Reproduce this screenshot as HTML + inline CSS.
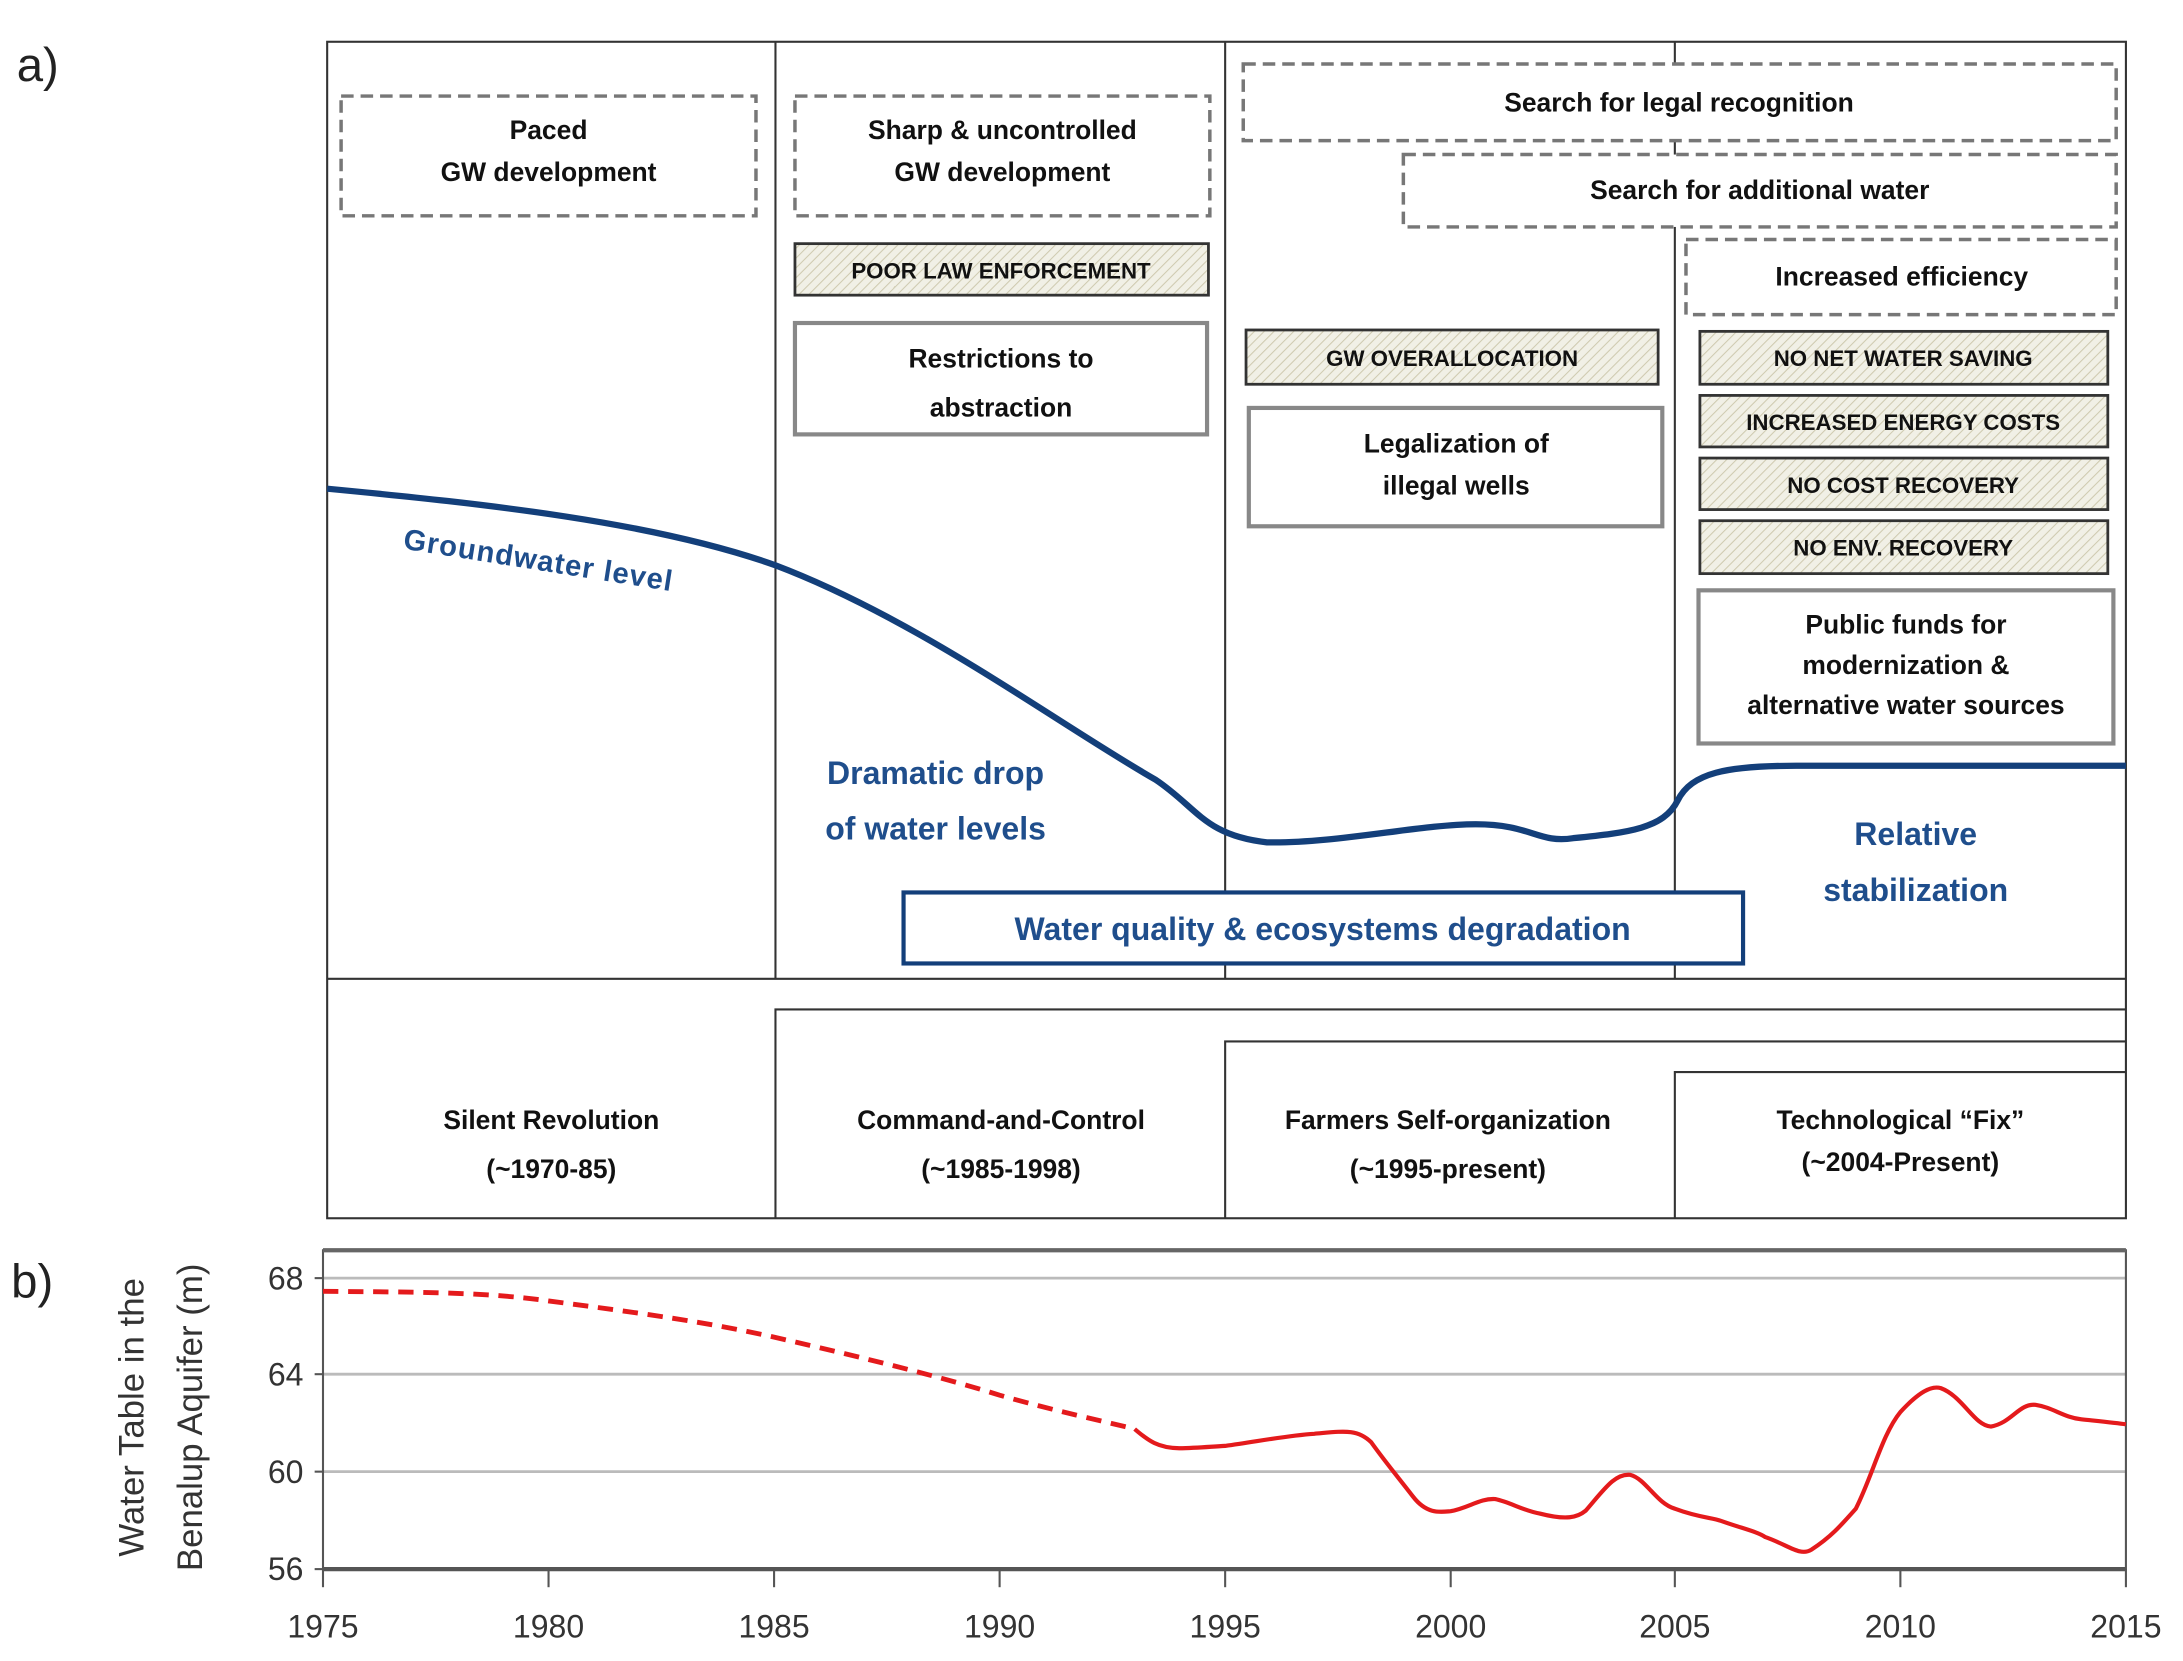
<!DOCTYPE html>
<html><head><meta charset="utf-8"><style>
html,body{margin:0;padding:0;background:#fff;}
svg{display:block;}
text{font-family:"Liberation Sans",sans-serif;}
.b{font-weight:bold;fill:#111;font-size:19px;text-anchor:middle;}
.s{font-weight:bold;fill:#111;font-size:16px;text-anchor:middle;}
.bl{font-weight:bold;fill:#1f4e8c;font-size:23px;text-anchor:middle;}
.tk{font-size:23px;fill:#333;text-anchor:middle;}
</style></head><body>
<svg width="2183" height="1661" viewBox="0 0 1568 1193" preserveAspectRatio="none" xmlns="http://www.w3.org/2000/svg">
<defs>
<pattern id="h" width="5" height="5" patternUnits="userSpaceOnUse" patternTransform="rotate(45)">
<rect width="5" height="5" fill="#f1f0e6"/><line x1="0" y1="0" x2="0" y2="5" stroke="#cfcab0" stroke-width="1.5"/>
</pattern>
</defs>
<rect width="1568" height="1193" fill="#fff"/>
<text x="12" y="58" font-size="34" fill="#222">a)</text>
<text x="8" y="932" font-size="34" fill="#222">b)</text>

<g stroke="#333" stroke-width="1.5" fill="none">
<rect x="235" y="30" width="1292" height="845"/>
<line x1="557" y1="30" x2="557" y2="703"/>
<line x1="880" y1="30" x2="880" y2="703"/>
<line x1="1203" y1="30" x2="1203" y2="703"/>
<line x1="235" y1="703" x2="1527" y2="703"/>
<polyline points="557,875 557,725 1527,725"/>
<polyline points="880,875 880,748 1527,748"/>
<polyline points="1203,875 1203,770 1527,770"/>
</g>

<g stroke="#777" stroke-width="2.5" stroke-dasharray="9,5" fill="#fff">
<rect x="245" y="69" width="298" height="86"/>
<rect x="571" y="69" width="298" height="86"/>
<rect x="893" y="46" width="627" height="55"/>
<rect x="1008" y="111" width="512" height="52"/>
<rect x="1211" y="172" width="309" height="54"/>
</g>
<text class="b" x="394" y="100">Paced</text>
<text class="b" x="394" y="130">GW development</text>
<text class="b" x="720" y="100">Sharp &amp; uncontrolled</text>
<text class="b" x="720" y="130">GW development</text>
<text class="b" x="1206" y="80">Search for legal recognition</text>
<text class="b" x="1264" y="143">Search for additional water</text>
<text class="b" x="1366" y="205">Increased efficiency</text>

<g stroke="#333" stroke-width="2" fill="url(#h)">
<rect x="571" y="175" width="297" height="37"/>
<rect x="895" y="237" width="296" height="39"/>
<rect x="1221" y="238" width="293" height="38"/>
<rect x="1221" y="284" width="293" height="37"/>
<rect x="1221" y="329" width="293" height="37"/>
<rect x="1221" y="374" width="293" height="38"/>
</g>
<text class="s" x="719" y="200">POOR LAW ENFORCEMENT</text>
<text class="s" x="1043" y="263">GW OVERALLOCATION</text>
<text class="s" x="1367" y="263">NO NET WATER SAVING</text>
<text class="s" x="1367" y="309">INCREASED ENERGY COSTS</text>
<text class="s" x="1367" y="354">NO COST RECOVERY</text>
<text class="s" x="1367" y="399">NO ENV. RECOVERY</text>

<g stroke="#888" stroke-width="3" fill="#fff">
<rect x="571" y="232" width="296" height="80"/>
<rect x="897" y="293" width="297" height="85"/>
<rect x="1220" y="424" width="298" height="110"/>
</g>
<text class="b" x="719" y="264">Restrictions to</text>
<text class="b" x="719" y="299">abstraction</text>
<text class="b" x="1046" y="325">Legalization of</text>
<text class="b" x="1046" y="355">illegal wells</text>
<text class="b" x="1369" y="455">Public funds for</text>
<text class="b" x="1369" y="484">modernization &amp;</text>
<text class="b" x="1369" y="513">alternative water sources</text>

<path d="M235,351 C350,362 470,375 557,406 C660,445 760,520 830,560 C860,580 865,600 910,605 C960,606 1020,592 1060,592 C1100,592 1105,606 1130,602 C1170,598 1195,595 1205,575 C1215,555 1240,550 1290,550 L1527,550" fill="none" stroke="#133f7a" stroke-width="4.5"/>
<text x="289" y="394" transform="rotate(9 289 394)" font-size="21" font-weight="bold" fill="#1f4e8c" textLength="195">Groundwater level</text>
<text class="bl" x="672" y="563">Dramatic drop</text>
<text class="bl" x="672" y="603">of water levels</text>
<text class="bl" x="1376" y="607">Relative</text>
<text class="bl" x="1376" y="647">stabilization</text>
<rect x="649" y="641" width="603" height="51" fill="#fff" stroke="#133f7a" stroke-width="3"/>
<text class="bl" x="950" y="675">Water quality &amp; ecosystems degradation</text>

<text class="b" x="396" y="811">Silent Revolution</text>
<text class="b" x="396" y="846">(~1970-85)</text>
<text class="b" x="719" y="811">Command-and-Control</text>
<text class="b" x="719" y="846">(~1985-1998)</text>
<text class="b" x="1040" y="811">Farmers Self-organization</text>
<text class="b" x="1040" y="846">(~1995-present)</text>
<text class="b" x="1365" y="811">Technological “Fix”</text>
<text class="b" x="1365" y="841">(~2004-Present)</text>

<g stroke="#bbb" stroke-width="2">
<line x1="232" y1="918" x2="1527" y2="918"/>
<line x1="232" y1="987" x2="1527" y2="987"/>
<line x1="232" y1="1057" x2="1527" y2="1057"/>
</g>
<rect x="232" y="898" width="1295" height="229" fill="none" stroke="#555" stroke-width="1.5"/>
<line x1="232" y1="898" x2="1527" y2="898" stroke="#666" stroke-width="3"/>
<line x1="232" y1="1127" x2="1527" y2="1127" stroke="#555" stroke-width="3"/>
<g stroke="#555" stroke-width="1.5">
<line x1="232" y1="1127" x2="232" y2="1140"/><line x1="394" y1="1127" x2="394" y2="1140"/>
<line x1="556" y1="1127" x2="556" y2="1140"/><line x1="718" y1="1127" x2="718" y2="1140"/>
<line x1="880" y1="1127" x2="880" y2="1140"/><line x1="1042" y1="1127" x2="1042" y2="1140"/>
<line x1="1203" y1="1127" x2="1203" y2="1140"/><line x1="1365" y1="1127" x2="1365" y2="1140"/>
<line x1="1527" y1="1127" x2="1527" y2="1140"/>
<line x1="226" y1="918" x2="232" y2="918"/><line x1="226" y1="987" x2="232" y2="987"/>
<line x1="226" y1="1057" x2="232" y2="1057"/><line x1="226" y1="1127" x2="232" y2="1127"/>
</g>
<text class="tk" x="232" y="1176">1975</text><text class="tk" x="394" y="1176">1980</text>
<text class="tk" x="556" y="1176">1985</text><text class="tk" x="718" y="1176">1990</text>
<text class="tk" x="880" y="1176">1995</text><text class="tk" x="1042" y="1176">2000</text>
<text class="tk" x="1203" y="1176">2005</text><text class="tk" x="1365" y="1176">2010</text>
<text class="tk" x="1527" y="1176">2015</text>
<g font-size="23" fill="#333" text-anchor="end">
<text x="218" y="926">68</text><text x="218" y="995">64</text>
<text x="218" y="1065">60</text><text x="218" y="1135">56</text>
</g>
<text transform="translate(103 1018) rotate(-90)" font-size="25" fill="#333" text-anchor="middle">Water Table in the</text>
<text transform="translate(145 1018) rotate(-90)" font-size="25" fill="#333" text-anchor="middle">Benalup Aquifer (m)</text>

<path fill="none" stroke="#e41a1c" stroke-width="3.5" stroke-dasharray="11,7" d="M232,927.5 C300,928 350,928 394,934.4 C460,943 510,950 556,960.4 C620,975 680,990 718,1002.1 C760,1014 790,1020 815,1026.4"/>
<path fill="none" stroke="#e41a1c" stroke-width="3" stroke-linejoin="round" d="M815,1026.4 C825,1035 832,1040 847,1040.2 C860,1040 870,1039 880,1038.5 C905,1035 925,1031 944,1029.8 C965,1028 975,1026 985,1036 C995,1050 1005,1062 1015,1075 C1025,1088 1035,1086 1042,1085.4 C1055,1083 1063,1076 1074,1076.7 C1085,1079 1094,1085 1106,1087.1 C1125,1092 1133,1090 1139,1085 C1152,1070 1160,1058 1171,1059.3 C1182,1062 1190,1080 1203,1083.6 C1220,1090 1230,1090 1236,1092.3 C1252,1098 1262,1100 1268,1104 C1285,1110 1293,1118 1301,1113.1 C1315,1104 1322,1096 1333,1083.6 C1345,1060 1352,1030 1365,1014.2 C1378,1000 1387,995 1394,997 C1410,1003 1418,1024 1430,1024.6 C1445,1022 1450,1008 1462,1009 C1475,1011 1482,1018 1495,1019.4 C1510,1021 1520,1022 1527,1023"/>
</svg>
</body></html>
